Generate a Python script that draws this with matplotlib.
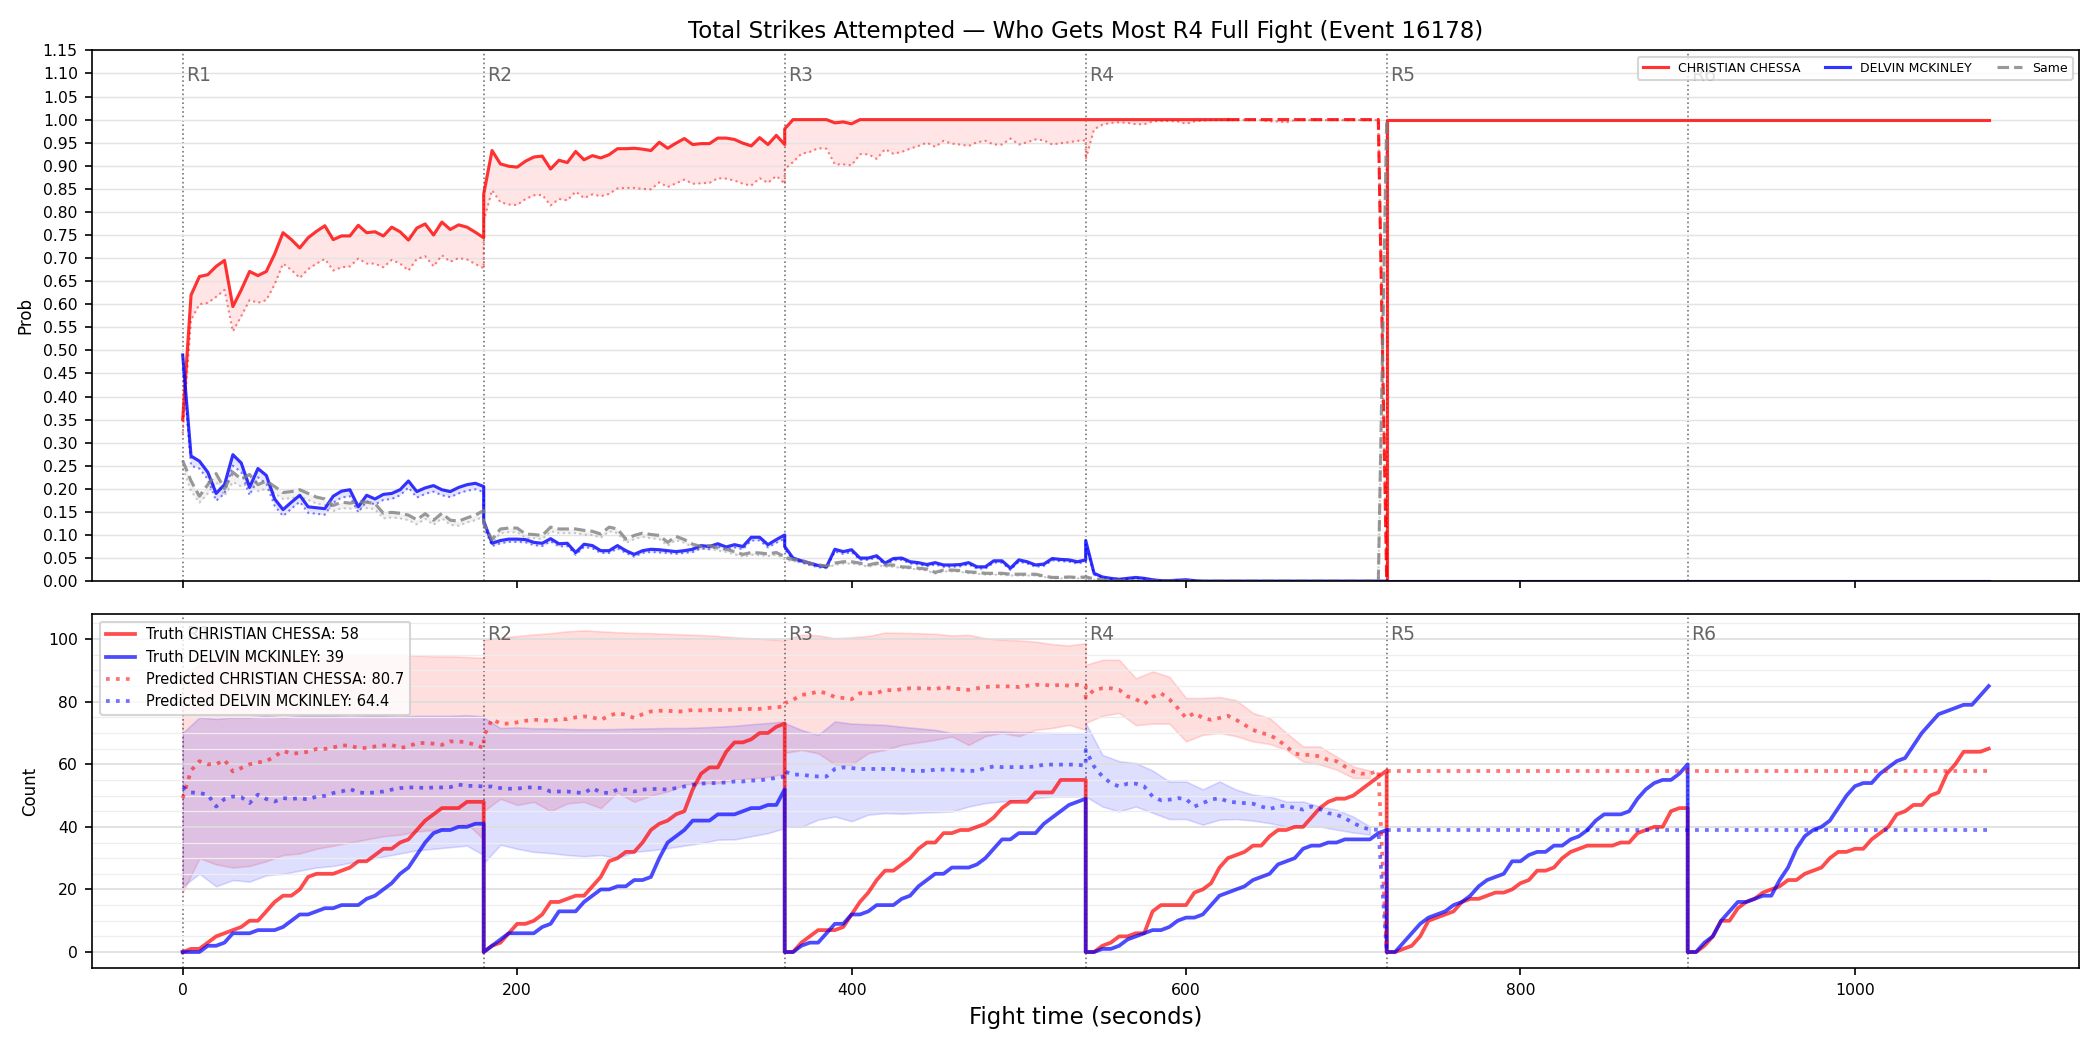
import numpy as np
import matplotlib
matplotlib.use("Agg")
from matplotlib import pyplot as plt
from matplotlib.ticker import MultipleLocator, FormatStrFormatter

fighter_red = "CHRISTIAN CHESSA"
fighter_blue = "DELVIN MCKINLEY"
round_starts = [0, 180, 360, 540, 720, 900]
round_names = ["R1", "R2", "R3", "R4", "R5", "R6"]
step = 5        # seconds between samples
band_step = 10  # seconds between band samples
dashed_from = 625

# ---- top panel: probability of landing most strikes, per round ----
red_prob = [
    [0.35, 0.62, 0.66, 0.664, 0.682, 0.695, 0.595, 0.631, 0.671, 0.662, 0.671, 0.709, 0.755, 0.740, 0.722, 0.744, 0.758, 0.770, 0.740,
     0.748, 0.748, 0.771, 0.755, 0.757, 0.748, 0.767, 0.757, 0.739, 0.765, 0.774, 0.750, 0.778, 0.762, 0.772, 0.767, 0.756, 0.744],
    [0.839, 0.933, 0.904, 0.899, 0.897, 0.910, 0.919, 0.921, 0.893, 0.912, 0.907, 0.931, 0.913, 0.922, 0.917, 0.924, 0.937, 0.937, 0.938,
     0.936, 0.933, 0.951, 0.938, 0.949, 0.959, 0.946, 0.948, 0.948, 0.960, 0.960, 0.957, 0.949, 0.943, 0.961, 0.946, 0.966, 0.946],
    [0.980, 1.0, 1.0, 1.0, 1.0, 1.0, 0.993, 0.995, 0.991, 1.0, 1.0, 1.0, 1.0, 1.0, 1.0, 1.0, 1.0, 1.0, 1.0,
     1.0, 1.0, 1.0, 1.0, 1.0, 1.0, 1.0, 1.0, 1.0, 1.0, 1.0, 1.0, 1.0, 1.0, 1.0, 1.0, 1.0, 1.0],
    [1.0, 1.0, 1.0, 1.0, 1.0, 1.0, 1.0, 1.0, 1.0, 1.0, 1.0, 1.0, 1.0, 1.0, 1.0, 1.0, 1.0, 1.0, 1.0,
     1.0, 1.0, 1.0, 1.0, 1.0, 1.0, 1.0, 1.0, 1.0, 1.0, 1.0, 1.0, 1.0, 1.0, 1.0, 1.0, 1.0, 0.0],
]
red_prob_lo = [
    [0.32, 0.566, 0.600, 0.603, 0.616, 0.631, 0.541, 0.574, 0.609, 0.603, 0.609, 0.643, 0.688, 0.674, 0.657, 0.676, 0.688, 0.698, 0.673,
     0.680, 0.682, 0.699, 0.688, 0.688, 0.680, 0.696, 0.688, 0.673, 0.698, 0.704, 0.682, 0.706, 0.692, 0.700, 0.697, 0.687, 0.678],
    [0.78, 0.847, 0.821, 0.816, 0.815, 0.828, 0.836, 0.837, 0.814, 0.828, 0.825, 0.844, 0.830, 0.838, 0.834, 0.839, 0.851, 0.852, 0.852,
     0.850, 0.849, 0.864, 0.854, 0.862, 0.870, 0.861, 0.862, 0.863, 0.873, 0.872, 0.868, 0.861, 0.857, 0.873, 0.863, 0.878, 0.861],
    [0.893, 0.908, 0.926, 0.930, 0.938, 0.937, 0.903, 0.903, 0.901, 0.925, 0.925, 0.915, 0.936, 0.926, 0.930, 0.937, 0.943, 0.950, 0.941,
     0.954, 0.948, 0.946, 0.943, 0.951, 0.954, 0.946, 0.946, 0.959, 0.946, 0.951, 0.957, 0.955, 0.946, 0.949, 0.951, 0.954, 0.955],
    [0.914, 0.979, 0.989, 0.993, 0.994, 0.993, 0.990, 0.990, 0.996, 0.997, 0.997, 0.996, 0.991, 0.996, 0.998, 0.999, 0.999, 0.999, 0.999,
     0.999, 0.999, 0.999, 0.996, 0.996, 0.994, 0.999, 0.999, 0.999, 0.999, 0.999, 0.999, 0.999, 0.999, 0.999, 0.999, 0.999, 0.0],
]
blue_prob = [
    [0.490, 0.271, 0.260, 0.236, 0.190, 0.209, 0.274, 0.256, 0.203, 0.244, 0.229, 0.178, 0.155, 0.171, 0.186, 0.161, 0.159, 0.157, 0.184,
     0.195, 0.198, 0.161, 0.186, 0.178, 0.188, 0.190, 0.198, 0.217, 0.194, 0.202, 0.207, 0.198, 0.194, 0.203, 0.209, 0.212, 0.205],
    [0.130, 0.082, 0.088, 0.091, 0.091, 0.090, 0.084, 0.082, 0.092, 0.081, 0.082, 0.062, 0.080, 0.077, 0.066, 0.066, 0.077, 0.066, 0.058,
     0.066, 0.069, 0.068, 0.066, 0.064, 0.066, 0.069, 0.077, 0.075, 0.081, 0.074, 0.079, 0.075, 0.095, 0.095, 0.079, 0.090, 0.100],
    [0.075, 0.050, 0.044, 0.039, 0.034, 0.031, 0.069, 0.064, 0.068, 0.050, 0.050, 0.055, 0.039, 0.049, 0.050, 0.042, 0.040, 0.036, 0.040,
     0.035, 0.035, 0.036, 0.040, 0.031, 0.031, 0.044, 0.044, 0.028, 0.046, 0.042, 0.035, 0.037, 0.049, 0.047, 0.046, 0.042, 0.046],
    [0.088, 0.017, 0.009, 0.006, 0.004, 0.006, 0.008, 0.006, 0.003, 0.001, 0.001, 0.002, 0.003, 0.001, 0.0, 0.0, 0.0, 0.0, 0.0,
     0.0, 0.0, 0.0, 0.0, 0.0, 0.0, 0.0, 0.0, 0.0, 0.0, 0.0, 0.0, 0.0, 0.0, 0.0, 0.0, 0.0, 0.0],
]
blue_prob_lo = [
    [0.46, 0.250, 0.244, 0.221, 0.174, 0.190, 0.250, 0.236, 0.186, 0.225, 0.211, 0.163, 0.141, 0.157, 0.172, 0.148, 0.146, 0.144, 0.170,
     0.181, 0.184, 0.149, 0.173, 0.166, 0.176, 0.178, 0.186, 0.203, 0.181, 0.189, 0.194, 0.186, 0.182, 0.190, 0.196, 0.199, 0.193],
    [0.120, 0.076, 0.082, 0.085, 0.085, 0.084, 0.078, 0.076, 0.086, 0.075, 0.076, 0.057, 0.074, 0.071, 0.061, 0.061, 0.071, 0.061, 0.053,
     0.061, 0.063, 0.062, 0.061, 0.059, 0.061, 0.063, 0.071, 0.069, 0.075, 0.068, 0.073, 0.069, 0.088, 0.088, 0.073, 0.083, 0.092],
    [0.068, 0.046, 0.040, 0.035, 0.030, 0.028, 0.064, 0.059, 0.063, 0.046, 0.046, 0.051, 0.035, 0.045, 0.046, 0.038, 0.036, 0.032, 0.036,
     0.031, 0.031, 0.032, 0.036, 0.027, 0.027, 0.040, 0.040, 0.024, 0.042, 0.038, 0.031, 0.033, 0.045, 0.043, 0.042, 0.038, 0.042],
    [0.080, 0.014, 0.007, 0.005, 0.003, 0.005, 0.006, 0.005, 0.002, 0.001, 0.001, 0.001, 0.002, 0.001, 0.0, 0.0, 0.0, 0.0, 0.0,
     0.0, 0.0, 0.0, 0.0, 0.0, 0.0, 0.0, 0.0, 0.0, 0.0, 0.0, 0.0, 0.0, 0.0, 0.0, 0.0, 0.0, 0.0],
]
same_prob = [
    [0.261, 0.217, 0.184, 0.209, 0.233, 0.200, 0.236, 0.221, 0.231, 0.209, 0.217, 0.205, 0.192, 0.194, 0.198, 0.190, 0.182, 0.178, 0.164,
     0.171, 0.169, 0.172, 0.171, 0.168, 0.147, 0.149, 0.147, 0.143, 0.133, 0.146, 0.132, 0.147, 0.132, 0.130, 0.137, 0.143, 0.153],
    [0.124, 0.090, 0.113, 0.115, 0.115, 0.102, 0.101, 0.099, 0.117, 0.113, 0.113, 0.113, 0.110, 0.108, 0.102, 0.117, 0.113, 0.091, 0.099,
     0.104, 0.101, 0.099, 0.084, 0.097, 0.090, 0.080, 0.075, 0.077, 0.072, 0.069, 0.064, 0.058, 0.062, 0.061, 0.059, 0.062, 0.053],
    [0.051, 0.047, 0.045, 0.039, 0.035, 0.033, 0.039, 0.042, 0.042, 0.039, 0.035, 0.039, 0.035, 0.035, 0.031, 0.030, 0.028, 0.026, 0.019,
     0.024, 0.024, 0.023, 0.020, 0.019, 0.017, 0.017, 0.017, 0.015, 0.015, 0.015, 0.015, 0.011, 0.008, 0.008, 0.009, 0.008, 0.009],
    [0.009, 0.005, 0.003, 0.002, 0.001, 0.001, 0.0, 0.0, 0.0, 0.0, 0.0, 0.0, 0.0, 0.0, 0.0, 0.0, 0.0, 0.0, 0.0,
     0.0, 0.0, 0.0, 0.0, 0.0, 0.0, 0.0, 0.0, 0.0, 0.0, 0.0, 0.0, 0.0, 0.0, 0.0, 0.0, 0.0, 1.0],
]
same_prob_lo = [
    [0.245, 0.195, 0.170, 0.190, 0.215, 0.185, 0.215, 0.205, 0.212, 0.195, 0.200, 0.190, 0.178, 0.180, 0.183, 0.176, 0.168, 0.165, 0.152,
     0.158, 0.157, 0.160, 0.158, 0.156, 0.136, 0.138, 0.136, 0.132, 0.123, 0.135, 0.122, 0.136, 0.122, 0.120, 0.127, 0.132, 0.140],
    [0.112, 0.082, 0.104, 0.106, 0.106, 0.094, 0.093, 0.091, 0.108, 0.104, 0.104, 0.104, 0.101, 0.100, 0.094, 0.108, 0.104, 0.083, 0.091,
     0.096, 0.093, 0.091, 0.077, 0.089, 0.083, 0.073, 0.069, 0.071, 0.066, 0.063, 0.058, 0.053, 0.057, 0.056, 0.054, 0.057, 0.048],
    [0.047, 0.043, 0.041, 0.035, 0.031, 0.029, 0.035, 0.038, 0.038, 0.035, 0.031, 0.035, 0.031, 0.031, 0.028, 0.027, 0.025, 0.023, 0.016,
     0.021, 0.021, 0.020, 0.017, 0.016, 0.014, 0.014, 0.014, 0.012, 0.012, 0.012, 0.012, 0.009, 0.006, 0.006, 0.007, 0.006, 0.007],
    [0.006, 0.003, 0.002, 0.001, 0.0, 0.0, 0.0, 0.0, 0.0, 0.0, 0.0, 0.0, 0.0, 0.0, 0.0, 0.0, 0.0, 0.0, 0.0,
     0.0, 0.0, 0.0, 0.0, 0.0, 0.0, 0.0, 0.0, 0.0, 0.0, 0.0, 0.0, 0.0, 0.0, 0.0, 0.0, 0.0, 1.0],
]
# after the fight is decided
outcome_t = [720, 1080]
outcome_red = [1.0, 1.0]
outcome_blue = [0.0, 0.0]

# ---- bottom panel: cumulative strikes per round ----
truth_red = [
    [0, 1, 1, 3, 5, 6, 7, 8, 10, 10, 13, 16, 18, 18, 20, 24, 25, 25, 25, 26, 27, 29, 29, 31, 33, 33, 35, 36, 39, 42, 44, 46, 46, 46, 48, 48, 48],
    [0, 2, 3, 6, 9, 9, 10, 12, 16, 16, 17, 18, 18, 21, 24, 29, 30, 32, 32, 35, 39, 41, 42, 44, 45, 52, 57, 59, 59, 64, 67, 67, 68, 70, 70, 72, 73],
    [0, 0, 3, 5, 7, 7, 7, 8, 12, 16, 19, 23, 26, 26, 28, 30, 33, 35, 35, 38, 38, 39, 39, 40, 41, 43, 46, 48, 48, 48, 51, 51, 51, 55, 55, 55, 55],
    [0, 0, 2, 3, 5, 5, 6, 6, 13, 15, 15, 15, 15, 19, 20, 22, 27, 30, 31, 32, 34, 34, 37, 39, 39, 40, 40, 43, 46, 48, 49, 49, 50, 52, 54, 56, 58],
    [0, 0, 1, 2, 5, 10, 11, 12, 13, 16, 17, 17, 18, 19, 19, 20, 22, 23, 26, 26, 27, 30, 32, 33, 34, 34, 34, 34, 35, 35, 38, 39, 40, 40, 45, 46, 46],
    [0, 0, 2, 5, 10, 10, 14, 16, 17, 19, 20, 21, 23, 23, 25, 26, 27, 30, 32, 32, 33, 33, 36, 38, 40, 44, 45, 47, 47, 50, 51, 57, 60, 64, 64, 64, 65],
]
truth_blue = [
    [0, 0, 0, 2, 2, 3, 6, 6, 6, 7, 7, 7, 8, 10, 12, 12, 13, 14, 14, 15, 15, 15, 17, 18, 20, 22, 25, 27, 31, 35, 38, 39, 39, 40, 40, 41, 41],
    [0, 2, 4, 6, 6, 6, 6, 8, 9, 13, 13, 13, 16, 18, 20, 20, 21, 21, 23, 23, 24, 30, 35, 37, 39, 42, 42, 42, 44, 44, 44, 45, 46, 46, 47, 47, 52],
    [0, 0, 2, 3, 3, 6, 9, 9, 12, 12, 13, 15, 15, 15, 17, 18, 21, 23, 25, 25, 27, 27, 27, 28, 30, 33, 36, 36, 38, 38, 38, 41, 43, 45, 47, 48, 49],
    [0, 0, 1, 1, 2, 4, 5, 6, 7, 7, 8, 10, 11, 11, 12, 15, 18, 19, 20, 21, 23, 24, 25, 28, 29, 30, 33, 34, 34, 35, 35, 36, 36, 36, 36, 38, 39],
    [0, 0, 3, 6, 9, 11, 12, 13, 15, 16, 18, 21, 23, 24, 25, 29, 29, 31, 32, 32, 34, 34, 36, 37, 39, 42, 44, 44, 44, 45, 49, 52, 54, 55, 55, 57, 60],
    [0, 0, 3, 5, 10, 13, 16, 16, 17, 18, 18, 23, 27, 33, 37, 39, 40, 42, 46, 50, 53, 54, 54, 57, 59, 61, 62, 66, 70, 73, 76, 77, 78, 79, 79, 82, 85],
]
pred_red = [
    [49.2, 58, 61, 60, 60, 61.4, 57.7, 58.8, 60, 60.6, 61, 62.5, 64.3, 63.4, 63.6, 64, 64.9, 64.9, 65.4,
     66, 66, 65.2, 65.2, 65.7, 66, 66.2, 65.2, 65.7, 66.8, 66.8, 66.6, 66.2, 67.3, 67.3, 67, 66.2, 65.2],
    [68.9, 74.4, 73, 73, 73.4, 73.9, 74.2, 74.2, 73.7, 74.5, 74.4, 75, 75.3, 75, 74.2, 75.5, 76.4, 75.8, 74.8,
     76, 76.9, 77.1, 77.1, 76.9, 76.9, 77.4, 77.2, 77.4, 77.4, 77.2, 77.6, 77.6, 77.7, 77.7, 78, 78.2, 78.5],
    [79.5, 80.6, 82.2, 82.5, 83.3, 82.7, 81.5, 81.2, 80.8, 82.7, 82.7, 82.7, 83.8, 83.6, 84, 84.3, 84.3, 84.3, 84,
     84.7, 84.3, 84, 83.8, 84.3, 84.7, 84.9, 84.9, 84.9, 84.7, 85.1, 85.4, 85.4, 85.1, 85.4, 85.1, 85.4, 85.1],
    [81.2, 83.8, 84.3, 84.3, 83.8, 81.7, 80.8, 79.3, 81.5, 82.7, 80.8, 78, 74.8, 76.4, 74.8, 74.2, 74.8, 75.5, 74.2,
     72.6, 71, 70, 69.4, 67.8, 65.7, 63.4, 63, 63, 62.5, 61.4, 61, 59.3, 57.7, 57, 57, 58, 0],
]
pred_blue = [
    [52.7, 51, 50.8, 50.3, 46.5, 48.9, 49.7, 49.5, 47.6, 50.3, 48.9, 48.1, 49.2, 48.9, 49.2, 48.7, 49.7, 49.9, 50.8,
     51.3, 52.1, 51, 50.8, 51, 51.3, 51.9, 52.4, 52.6, 52.6, 52.4, 52.6, 52.6, 52.7, 53.5, 53.1, 53.1, 52.9],
    [52.9, 52.9, 52.4, 52.2, 52.2, 52.6, 52.6, 52.4, 51.3, 51.3, 51.3, 51, 50.8, 52.4, 51, 50.8, 51.9, 51.9, 51.3,
     51.9, 52.1, 52.1, 51.9, 52.4, 52.9, 53.5, 53.8, 54, 54, 54.2, 54.5, 54.5, 54.8, 54.8, 55.3, 55.6, 56.1],
    [57.7, 56.7, 56.7, 56.3, 56.1, 56.1, 58.5, 59, 58.8, 58.5, 58.5, 58.5, 58.5, 58.5, 58.3, 57.9, 57.9, 57.9, 58.3,
     58.3, 58.3, 58, 57.9, 57.9, 58.8, 59.3, 59.1, 59.1, 59.1, 59.1, 59.3, 59.9, 59.9, 59.9, 59.9, 59.9, 59.5],
    [64.6, 59.3, 56.1, 54, 52.9, 53.8, 53.8, 52.9, 49.7, 48.5, 48.7, 49.2, 48.9, 46.5, 47.6, 48.7, 49.2, 48.1, 47.8,
     47.6, 47.4, 46.5, 45.7, 46.5, 46.8, 46, 45.5, 46.5, 45.7, 44.4, 43.9, 42.8, 41.2, 40, 39.1, 39.1, 0],
]
# prediction bands, sampled every 10 s
pred_red_hi = [
    [88, 92, 94, 94.5, 95, 95, 95, 95, 95, 95, 95, 95, 95, 95, 94.8, 94.5, 94.5, 94.3, 94.0],
    [99.8, 100.5, 101, 101.5, 101.9, 102.5, 102.8, 102.5, 102.2, 102, 101.9, 101.7, 101.5, 101.3, 101, 100.6, 100.3, 100, 99.6],
    [99.8, 101.4, 101.2, 100.3, 100.6, 101.0, 102.1, 102.0, 101.9, 101.7, 101.2, 101.4, 100.3, 99.8, 99.6, 99.2, 98.4, 98.0, 98.7],
    [91.8, 93.4, 93.4, 87.5, 89.7, 88.0, 81.2, 81.2, 81.5, 80.5, 76.4, 74.8, 70.0, 65.7, 65.7, 62.5, 59.3, 58.0],
]
pred_red_lo = [
    [19, 30, 28, 27, 27.5, 29, 31, 31.5, 33, 34, 35, 36, 37, 37.5, 38.5, 39, 40, 41, 36],
    [45, 49, 47, 48, 45, 47.5, 48, 46, 51, 48, 50, 51.3, 53.5, 54, 54, 55, 55.5, 56, 57],
    [63.6, 64.6, 63.5, 60, 59.9, 63.6, 64.6, 66.2, 67, 67.8, 68.9, 66.2, 69, 70, 69, 71, 71.6, 72.6, 71],
    [73.2, 75.5, 76.4, 72.5, 73.0, 73.0, 67.3, 69.4, 70.0, 69.0, 67.3, 66.5, 64.6, 60.9, 59.9, 58.3, 55.6, 55.6],
]
pred_blue_hi = [
    [70, 75, 74.5, 75, 75, 75.5, 75, 75.5, 75.5, 75.5, 75.3, 75.5, 75.5, 75.3, 75.5, 75.5, 75.5, 75.7, 75.3],
    [75, 71.6, 71.8, 71.5, 71.5, 71.3, 71.2, 71.2, 71.3, 71.4, 71.5, 71.6, 71.6, 71.8, 72, 72.3, 72.8, 73.2, 73.7],
    [73.2, 71, 69.4, 73.7, 73, 72.8, 72.6, 72, 71.5, 71, 70, 70, 70.5, 70.5, 70.3, 70.2, 70, 70, 70],
    [73.2, 63, 61, 60.4, 58, 54.5, 54.5, 52, 54.5, 51.9, 50.3, 49.7, 48.1, 48.1, 46.5, 45.5, 43.3, 40.1],
]
pred_blue_lo = [
    [21, 25, 21, 23, 22.5, 24.5, 25, 26, 27, 27.5, 28.5, 29.5, 30.5, 31.5, 32.5, 33, 33.5, 34, 31],
    [28.4, 34.3, 33, 32, 31.6, 31, 30.6, 31, 30, 32, 32.5, 33.2, 34, 34.8, 35.9, 36, 37, 38, 39.6],
    [40.1, 40, 42.3, 43.3, 41.8, 43.9, 44.4, 44.2, 44.5, 44.7, 44.9, 46.5, 47.6, 48.1, 48.5, 49.2, 49.7, 49.7, 49.7],
    [49.7, 46.5, 44.9, 46.5, 44.5, 42.5, 42.5, 40.7, 42.3, 42.5, 42, 41.2, 40.1, 40.1, 40.1, 39.1, 38.2, 37.5],
]
final_t = [720, 1080]
final_red = 58
final_blue = 39
pred_mean_red = 80.7
pred_mean_blue = 64.4


def join(rounds, dt):
    t = np.concatenate([s + np.arange(len(v)) * dt for s, v in zip(round_starts, rounds)])
    return t, np.concatenate(rounds).astype(float)


fig, (ax1, ax2) = plt.subplots(2, 1, figsize=(14, 7), dpi=150, sharex=True,
                               gridspec_kw={"height_ratios": [1.5, 1]})
fig.subplots_adjust(left=0.044, right=0.990, top=0.952, bottom=0.078, hspace=0.075)

# ---------- top ----------
t, red = join(red_prob, step)
_, red_lo = join(red_prob_lo, step)
_, blue = join(blue_prob, step)
_, blue_lo = join(blue_prob_lo, step)
_, same = join(same_prob, step)
_, same_lo = join(same_prob_lo, step)

ax1.fill_between(t, red_lo, red, color="red", alpha=0.1, lw=0)
ax1.fill_between(t, blue_lo, blue, color="blue", alpha=0.1, lw=0)
ax1.fill_between(t, same_lo, same, color="gray", alpha=0.1, lw=0)
ax1.plot(t, red_lo, ":", color="red", alpha=0.5, lw=1)
ax1.plot(t, blue_lo, ":", color="blue", alpha=0.5, lw=1)
ax1.plot(t, same_lo, ":", color="gray", alpha=0.4, lw=1)

solid = t <= dashed_from
dashed = t >= dashed_from
ax1.plot(t[solid], red[solid], color="red", alpha=0.8, lw=1.5, label=fighter_red)
ax1.plot(t[dashed], red[dashed], "--", color="red", alpha=0.85, lw=1.5)
ax1.plot([t[-1]] + outcome_t, [red[-1]] + outcome_red, color="red", alpha=0.8, lw=1.5)
ax1.plot(t, blue, color="blue", alpha=0.8, lw=1.5, label=fighter_blue)
ax1.plot(outcome_t, outcome_blue, color="blue", alpha=0.8, lw=1.5)
ax1.plot(t, same, "--", color="gray", alpha=0.8, lw=1.5, label="Same")

ax1.set_ylim(0, 1.15)
ax1.yaxis.set_major_locator(MultipleLocator(0.05))
ax1.yaxis.set_major_formatter(FormatStrFormatter("%.2f"))
ax1.set_ylabel("Prob", fontsize=8)
ax1.set_title("Total Strikes Attempted \u2014 Who Gets Most R4 Full Fight (Event 16178)", fontsize=11, pad=6)
ax1.grid(axis="y", color="#e3e3e3", lw=0.7)
ax1.legend(loc="upper right", ncol=3, fontsize=6, framealpha=0.8)

# ---------- bottom ----------
tt, tr = join(truth_red, step)
_, tb = join(truth_blue, step)
tp, pr = join(pred_red, step)
_, pb = join(pred_blue, step)
tband, rhi = join(pred_red_hi, band_step)
_, rlo = join(pred_red_lo, band_step)
_, bhi = join(pred_blue_hi, band_step)
_, blo = join(pred_blue_lo, band_step)

ax2.fill_between(tband, rlo, rhi, color="red", alpha=0.13, lw=0.8, edgecolor=(1, 0, 0, 0.1))
ax2.fill_between(tband, blo, bhi, color="blue", alpha=0.13, lw=0.8, edgecolor=(0, 0, 1, 0.1))
ax2.plot(tt, tr, color="red", alpha=0.7, lw=1.8, label=f"Truth {fighter_red}: {final_red}")
ax2.plot(tt, tb, color="blue", alpha=0.7, lw=1.8, label=f"Truth {fighter_blue}: {final_blue}")
ax2.plot(tp, pr, ":", color="red", alpha=0.55, lw=1.8, label=f"Predicted {fighter_red}: {pred_mean_red}")
ax2.plot(tp, pb, ":", color="blue", alpha=0.55, lw=1.8, label=f"Predicted {fighter_blue}: {pred_mean_blue}")
ax2.plot(final_t, [final_red] * 2, ":", color="red", alpha=0.55, lw=1.8)
ax2.plot(final_t, [final_blue] * 2, ":", color="blue", alpha=0.55, lw=1.8)

ax2.set_ylabel("Count", fontsize=8)
ax2.set_xlabel("Fight time (seconds)", fontsize=11)
ax2.yaxis.set_major_locator(MultipleLocator(20))
ax2.yaxis.set_minor_locator(MultipleLocator(5))
ax2.grid(axis="y", which="major", color="#dddddd", lw=0.8)
ax2.grid(axis="y", which="minor", color="#eeeeee", lw=0.6)
ax2.tick_params(axis="y", which="minor", length=0)
ax2.legend(loc="upper left", fontsize=7, framealpha=0.8)

for ax in (ax1, ax2):
    ax.tick_params(labelsize=7.5)
    for s, name in zip(round_starts, round_names):
        ax.axvline(s, color="#555555", ls=":", lw=0.8, alpha=0.8, zorder=0)
        ax.text(s + 2, 0.97, name, transform=ax.get_xaxis_transform(), va="top", ha="left",
                fontsize=9, color="#666666")

fig.savefig("out.png", dpi=150)
